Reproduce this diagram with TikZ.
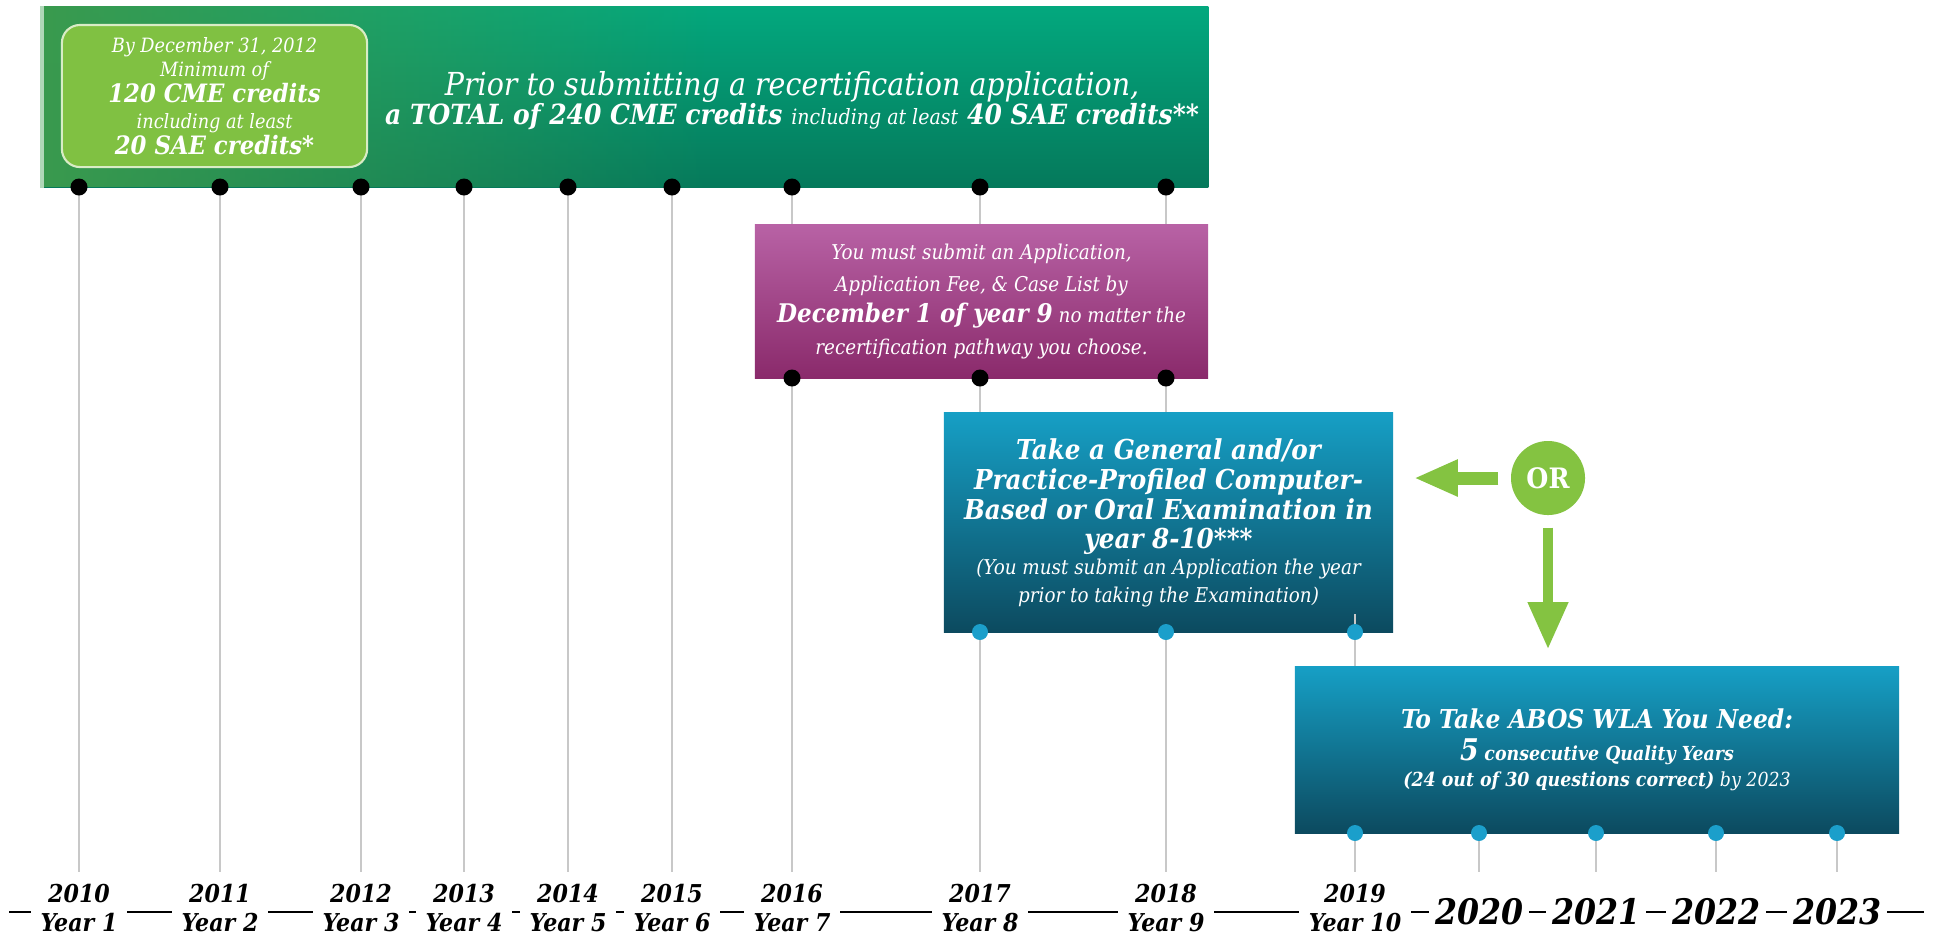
\documentclass[tikz,border=0pt]{standalone}
\usepackage{fontspec}
\setmainfont{DejaVu Serif Condensed}
\usetikzlibrary{arrows.meta,fadings,calc}

\definecolor{barTop}{HTML}{03A87E}
\definecolor{barBot}{HTML}{05795B}
\definecolor{barLeft}{HTML}{3A9A4E}
\definecolor{credGreen}{HTML}{80C142}
\definecolor{purpTop}{HTML}{B862A5}
\definecolor{purpBot}{HTML}{8A2A6B}
\definecolor{blueTop}{HTML}{169FC5}
\definecolor{blueBot}{HTML}{0C4A5F}
\definecolor{dotBlue}{HTML}{1B9FCB}
\definecolor{orGreen}{HTML}{84C341}
\definecolor{gridGray}{HTML}{C8C8C8}

\newcommand\fsz[2]{\fontsize{#1}{#2}\selectfont\lineskiplimit=-5pt\relax}

\tikzfading[name=fadebar, left color=transparent!0, right color=transparent!100]

\tikzset{
  box/.style={inner sep=0pt, align=center, text=white, font=\itshape\fsz{6}{9}},
  grid/.style={draw=gridGray, line width=0.45pt},
  bdot/.style={fill=black},
  cdot/.style={fill=dotBlue},
  yearlbl/.style={fill=white, inner xsep=0.1cm, inner ysep=1pt, align=center, font=\bfseries\itshape\fsz{7}{8.5}},
  bigyear/.style={fill=white, inner xsep=0.06cm, inner ysep=1pt, font=\bfseries\itshape\fsz{10}{11}},
  fatarrow/.style={draw=orGreen, line width=0.13cm, -{Triangle[width=0.34cm, length=0.44cm]}},
  thinarrow/.style={draw=orGreen, line width=0.1cm, -{Triangle[width=0.38cm, length=0.47cm]}}
}

\begin{document}
\begin{tikzpicture}[x=0.01cm, y=-0.01cm]

\useasboundingbox[fill=white] (0,0) rectangle (1937,938);

% timeline
\draw[line width=0.6pt] (9,912) -- (1924,912);

\foreach \x in {79,220,361,464,568,672,792,980,1166}
	\draw[grid] (\x,187) -- (\x,872);
\foreach \x in {1479,1596,1716,1837}
	\draw[grid] (\x,800) -- (\x,872);

% credits bar
\node[top color=barTop, bottom color=barBot, minimum width=11.65cm, minimum height=1.8cm, inner sep=0pt] (bar) at (625.5,97) {};
\fill[barLeft, path fading=fadebar] (bar.north west) rectangle (720,187);
\draw[white!60!barLeft, line width=1.2pt] (bar.north west) -- (bar.south west);

\node[box, fill=credGreen, draw=white!70!credGreen, line width=0.6pt, rounded corners=0.18cm, minimum width=3.05cm, minimum height=1.42cm, font=\itshape\fsz{5.6}{7.4}] (first) at (214.5,96)
	{By December 31, 2012\\[-0.6pt]
	 Minimum of\\
	 {\bfseries\fsz{7.2}{8}120 CME credits}\\
	 including at least\\
	 {\bfseries\fsz{7.2}{8}20 SAE credits*}};

\node[box, font=\itshape\fsz{9}{8.3}] (total) at (792,101)
	{Prior to submitting a recertification application,\\
	 {\bfseries\fsz{7.9}{9}a TOTAL of 240 CME credits} {\fsz{6}{9}including at least} {\bfseries\fsz{7.9}{9}40 SAE credits**}};

% application box
\node[box, top color=purpTop, bottom color=purpBot, minimum width=4.53cm, minimum height=1.53cm, font=\itshape\fsz{5.8}{9}] (appl) at (981.5,301.5)
	{You must submit an Application,\\
	 Application Fee, \& Case List by\\
	 {\bfseries\fsz{7.3}{9}December 1 of year 9} no matter the\\
	 recertification pathway you choose.};

% examination box
\node[box, top color=blueTop, bottom color=blueBot, minimum width=4.49cm, minimum height=2.19cm, font=\itshape\fsz{5.8}{8.5}] (exam) at (1168.5,522.5)
	{{\bfseries\fsz{7.8}{8.5}Take a General and/or}\\
	 {\bfseries\fsz{7.8}{8.5}Practice-Profiled Computer-}\\
	 {\bfseries\fsz{7.8}{8.5}Based or Oral Examination in}\\
	 {\bfseries\fsz{7.8}{8.5}year 8-10***}\\[-1.1pt]
	 (You must submit an Application the year\\[-0.8pt]
	 prior to taking the Examination)};

\draw[grid] (1355,614) -- (1355,872);

% wla box
\node[box, top color=blueTop, bottom color=blueBot, minimum width=6.04cm, minimum height=1.66cm, font=\itshape\fsz{5.5}{8.5}] (wla) at (1597,750)
	{{\bfseries\fsz{7.4}{9}To Take ABOS WLA You Need:}\\[0.5pt]
	 {\bfseries\fsz{8.5}{9}5} {\bfseries consecutive Quality Years}\\[-1pt]
	 {\bfseries (24 out of 30 questions correct)} by 2023};

\node[circle, fill=orGreen, minimum size=0.74cm, inner sep=0pt, text=white, font=\bfseries\fsz{8}{9}] (orc) at (1548,478) {OR};

\draw[fatarrow] ($(orc.west)+(-12,0)$) -- ($(exam.east |- orc.west)+(20,0)$);
\draw[thinarrow] ($(orc.south)+(0,12)$) -- ($(wla.north -| orc.south)+(0,-17)$);

% dots
\foreach \x in {79,220,361,464,568,672,792,980,1166}
	\fill[bdot] (\x,187) circle (0.085cm);
\foreach \x in {792,980,1166}
	\fill[bdot] (\x,378) circle (0.085cm);
\foreach \x in {980,1166,1355}
	\fill[cdot] (\x,632) circle (0.08cm);
\foreach \x in {1355,1479,1596,1716,1837}
	\fill[cdot] (\x,833) circle (0.08cm);

% years
\foreach \x/\yr/\n in {79/2010/1,220/2011/2,361/2012/3,464/2013/4,568/2014/5,672/2015/6,792/2016/7,980/2017/8,1166/2018/9,1355/2019/10}
	\node[yearlbl] (y\yr) at (\x,908) {\yr\\Year \n};
\foreach \x/\yr in {1479/2020,1596/2021,1716/2022,1837/2023}
	\node[bigyear] (y\yr) at (\x,912) {\yr};

\end{tikzpicture}
\end{document}
